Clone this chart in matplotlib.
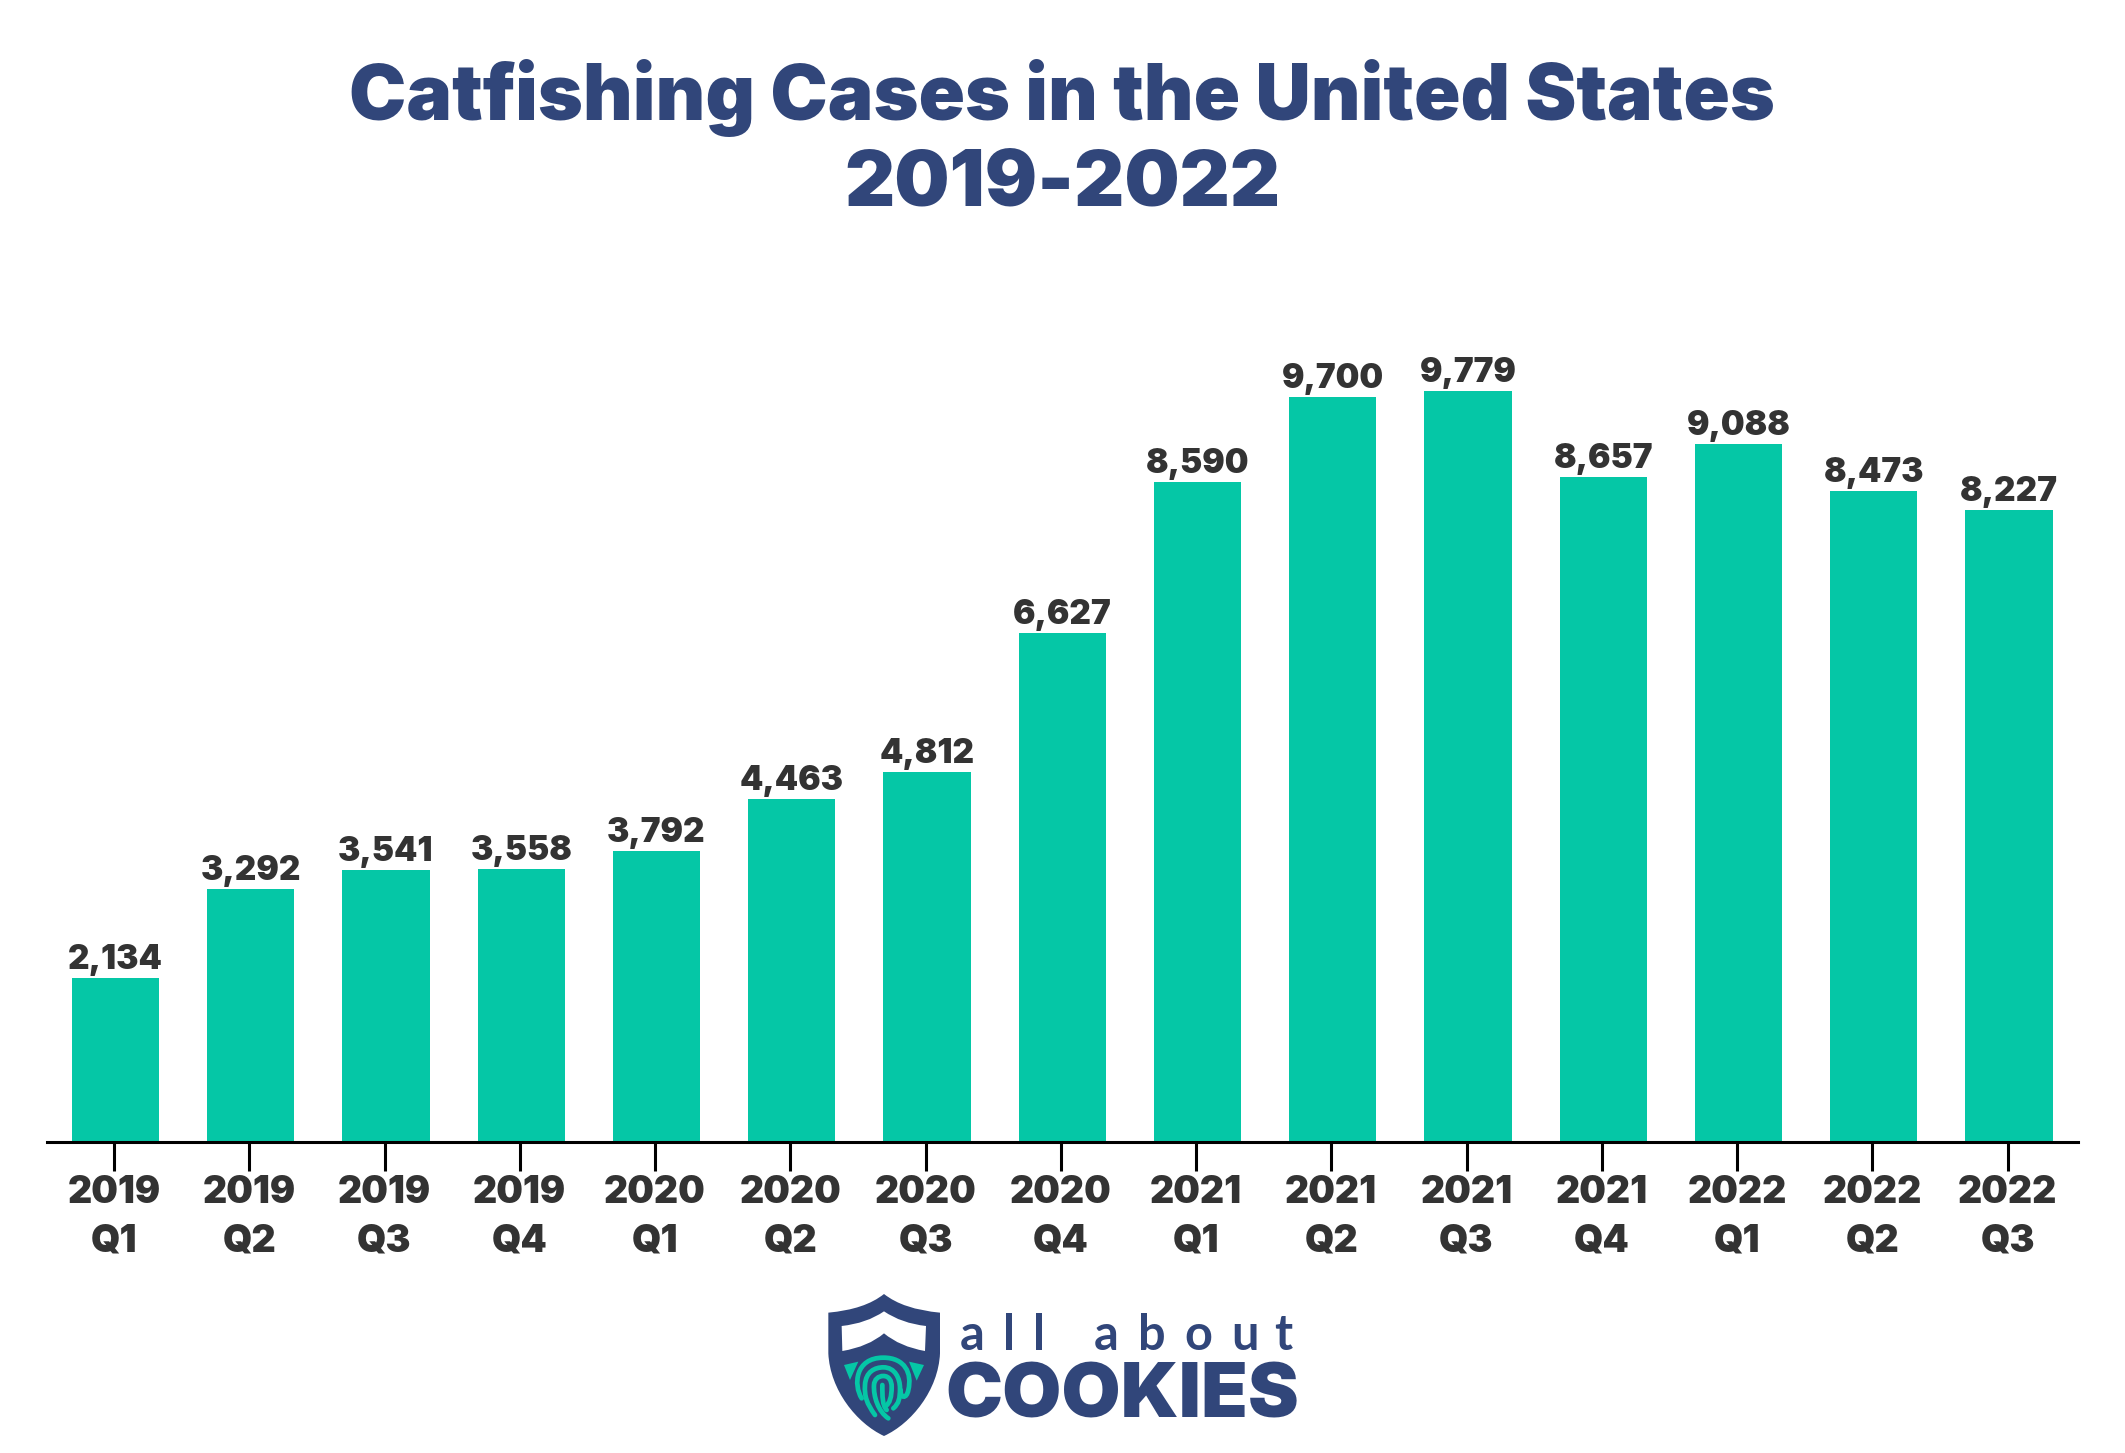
import matplotlib
matplotlib.use("Agg")
import matplotlib.pyplot as plt
from matplotlib.patches import PathPatch, Polygon
from matplotlib.path import Path


# * Data
years = ["2019", "2019", "2019", "2019", "2020", "2020", "2020", "2020",
         "2021", "2021", "2021", "2021", "2022", "2022", "2022"]
quarters = ["Q1", "Q2", "Q3", "Q4", "Q1", "Q2", "Q3", "Q4",
            "Q1", "Q2", "Q3", "Q4", "Q1", "Q2", "Q3"]
cases = [2134, 3292, 3541, 3558, 3792, 4463, 4812, 6627,
         8590, 9700, 9779, 8657, 9088, 8473, 8227]

W, H = 2125, 1453
TEAL = "#05C7A6"
NAVY = "#31467A"
DARK = "#333333"
FONT = "Inter"

plt.rcParams["font.family"] = [FONT, "DejaVu Sans"]
fig = plt.figure(figsize=(W / 100, H / 100), dpi=100, facecolor="white")

# * Bars, axes box is given in pixels
ax_left, ax_right, ax_base, ax_height = 47, 2078, 1142, 800
tick0, step = 114, 135.25
ax = fig.add_axes([ax_left / W, (H - ax_base) / H, (ax_right - ax_left) / W, ax_height / H])
positions = list(range(len(cases)))
bars = ax.bar([p + 0.011 for p in positions], cases, width=0.645, color=TEAL)
ax.bar_label(bars, labels=[f"{v:,}" for v in cases], padding=1.5, fontsize=24,
             fontweight=900, color=DARK)
ax.set_xlim((ax_left - tick0) / step, (ax_right - tick0) / step)
ax.set_ylim(0, ax_height / 0.0768)
ax.set_yticks([])
ax.set_xticks(positions)
ax.set_xticklabels([f"{y}\n{q}" for y, q in zip(years, quarters)], fontsize=27,
                   fontweight=900, color=DARK, linespacing=1.45)
ax.tick_params(axis="x", length=21, width=2.2, color="black", pad=3)
for side in ["left", "right", "top"]:
    ax.spines[side].set_visible(False)
ax.spines["bottom"].set_linewidth(2.2)
ax.patch.set_alpha(0)

# * Title
fig.text(1062 / W, 1 - 120 / H, "Catfishing Cases in the United States", ha="center",
         va="baseline", fontsize=55.2, fontweight=900, color=NAVY)
fig.text(1062 / W, 1 - 206 / H, "2019-2022", ha="center", va="baseline", fontsize=56,
         fontweight=900, color=NAVY)

# * Logo, drawn on a full figure layer in pixel coordinates
logo = fig.add_axes([0, 0, 1, 1], zorder=-1)
logo.set_xlim(0, W)
logo.set_ylim(H, 0)
logo.axis("off")


def shield(x, y):
    return (825 + x / 3, 1290 + y / 3)


def shape(cmds, **kwargs):
    verts = [shield(*p) for _, p in cmds]
    codes = [c for c, _ in cmds]
    logo.add_patch(PathPatch(Path(verts, codes), **kwargs))


M, L, Q, C = Path.MOVETO, Path.LINETO, Path.CURVE3, Path.CURVE4
shape([(M, (177, 12)), (Q, (235, 58)), (Q, (345, 68)), (L, (345, 190)),
       (C, (340, 300)), (C, (260, 400)), (C, (177, 438)),
       (C, (95, 400)), (C, (15, 300)), (C, (10, 190)),
       (L, (10, 68)), (Q, (120, 58)), (Q, (177, 12))], facecolor=NAVY, edgecolor="none")
shape([(M, (177, 64)), (Q, (230, 100)), (Q, (303, 108)), (L, (300, 183)),
       (Q, (225, 170)), (Q, (177, 130)), (Q, (130, 170)), (Q, (52, 183)),
       (L, (50, 108)), (Q, (125, 100)), (Q, (177, 64))], facecolor="white", edgecolor="none")
logo.add_patch(Polygon([shield(57, 225), shield(100, 215), shield(75, 270)], color=TEAL, lw=0))
logo.add_patch(Polygon([shield(297, 225), shield(252, 215), shield(275, 272)], color=TEAL, lw=0))

print_lines = [
    [(M, (110, 325)), (C, (85, 285)), (C, (90, 203)), (C, (175, 203)), (C, (240, 203)),
     (C, (262, 250)), (C, (250, 300)), (C, (245, 328)), (C, (225, 325)), (C, (227, 300))],
    [(M, (150, 375)), (C, (125, 340)), (C, (118, 320)), (C, (120, 285)), (C, (122, 245)),
     (C, (150, 232)), (C, (175, 232)), (C, (210, 232)), (C, (225, 265)), (C, (225, 295)),
     (C, (225, 325)), (C, (222, 340)), (C, (205, 355))],
    [(M, (190, 385)), (C, (160, 365)), (C, (145, 320)), (C, (147, 285)), (C, (148, 268)),
     (C, (160, 258)), (C, (175, 258)), (C, (192, 258)), (C, (200, 272)), (C, (200, 290)),
     (C, (200, 320)), (C, (195, 340)), (C, (180, 350))],
    [(M, (172, 285)), (C, (172, 320)), (C, (172, 345)), (C, (185, 360))],
]
for line in print_lines:
    shape(line, facecolor="none", edgecolor=TEAL, linewidth=3.4, capstyle="round")

about_letters = ["a", "l", "l", "a", "b", "o", "u", "t"]
about_x = [972, 1009, 1039, 1106, 1152, 1198, 1245, 1283]
for letter, lx in zip(about_letters, about_x):
    logo.text(lx, 1350, letter, ha="center", va="baseline", fontsize=35,
              fontweight=700, color=NAVY, family="Lato")
logo.text(1122, 1417, "COOKIES", ha="center", va="baseline", fontsize=55,
          fontweight=900, color=NAVY)

fig.savefig("out.png", dpi=100, facecolor="white")
